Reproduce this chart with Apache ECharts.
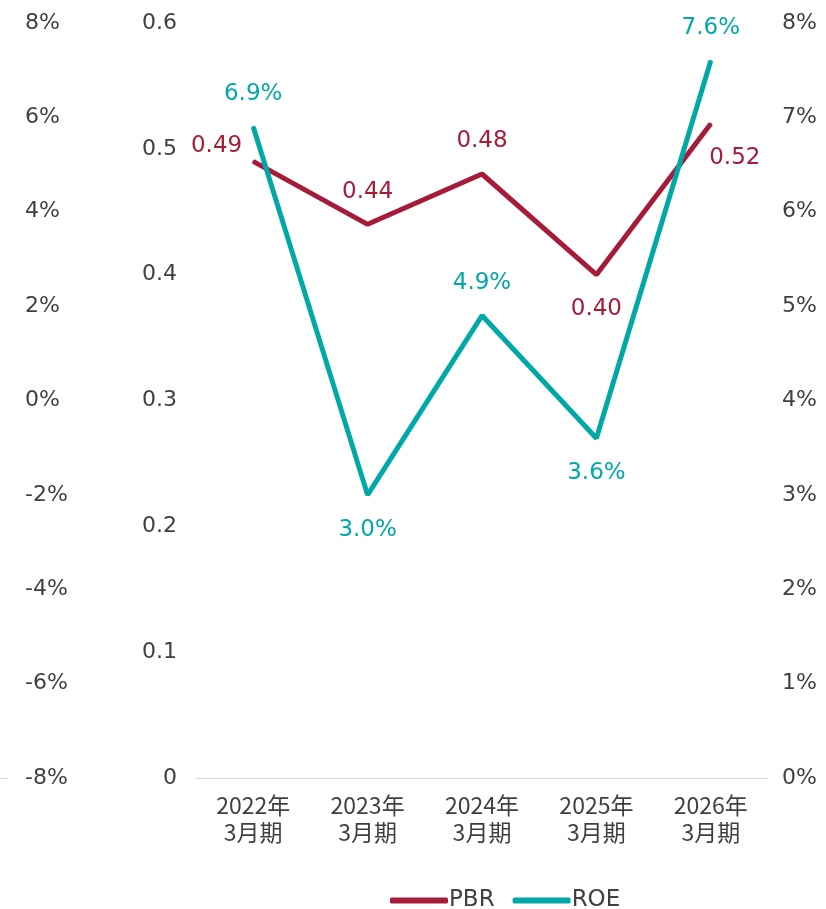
<!DOCTYPE html>
<html>
<head>
<meta charset="utf-8">
<style>
html,body{margin:0;padding:0;background:#fff;}
#chart{width:826px;height:909px;}
</style>
<script src="https://cdn.jsdelivr.net/npm/echarts@6/dist/echarts.min.js"></script>
</head>
<body>
<div id="chart"></div>
<script>
var categories = ['2022年\n3月期', '2023年\n3月期', '2024年\n3月期', '2025年\n3月期', '2026年\n3月期'];
var pbrValues = [0.49, 0.44, 0.48, 0.40, 0.52];
var roeValues = [6.9, 3.0, 4.9, 3.6, 7.6];
var pbrTicks = { min: 0, max: 0.6, interval: 0.1 };
var roeTicks = { min: 0, max: 8, interval: 1 };
var outerTicks = { min: -8, max: 8, interval: 2 };

var FONT = '"DejaVu Sans", "Noto Sans CJK JP", sans-serif';
var CJK_FONT = '"Noto Sans CJK JP", sans-serif';
var TEXT = '#404040';
var RED = '#A51C38';
var TEAL = '#00A9A8';
var FS = 22;
var FS_LABEL = 23;

// label placement styling (kept separate from values)
var pbrLabelCfg = [
  { position: 'left', distance: 10, offset: [0, -15] },
  { position: 'top', distance: 20 },
  { position: 'top', distance: 20 },
  { position: 'bottom', distance: 22 },
  { position: 'bottom', distance: 22, offset: [24, 0] }
];
var roeLabelCfg = [
  { position: 'top', distance: 20 },
  { position: 'bottom', distance: 23 },
  { position: 'top', distance: 20 },
  { position: 'bottom', distance: 22 },
  { position: 'top', distance: 20 }
];

var chart = echarts.init(document.getElementById('chart'), null, { renderer: 'canvas' });
chart.setOption({
  backgroundColor: '#fff',
  animation: false,
  textStyle: { fontFamily: FONT },
  legend: {
    left: 385, top: 884,
    itemWidth: 58, itemHeight: 6, itemGap: 18,
    icon: 'roundRect',
    textStyle: { fontFamily: FONT, fontSize: FS_LABEL, color: TEXT, padding: [2, 0, 0, -4] },
    data: [
      { name: 'PBR', itemStyle: { color: RED, opacity: 1 } },
      { name: 'ROE', itemStyle: { color: TEAL, opacity: 1 } }
    ]
  },
  grid: [
    { left: 196, right: 58, top: 23, bottom: 131 },
    { left: 0, width: 8, top: 23, bottom: 131 }
  ],
  xAxis: [
    {
      type: 'category', gridIndex: 0, data: categories, boundaryGap: true,
      axisLine: { lineStyle: { color: '#d9d9d9', width: 1 } },
      axisTick: { show: false },
      axisLabel: { color: TEXT, fontSize: 23, lineHeight: 27, margin: 14, fontFamily: CJK_FONT, interval: 0 }
    },
    {
      type: 'category', gridIndex: 1, data: [''],
      axisLine: { onZero: false, lineStyle: { color: '#d9d9d9', width: 1 } },
      axisTick: { show: false }, axisLabel: { show: false }
    }
  ],
  yAxis: [
    {
      type: 'value', gridIndex: 0, position: 'left',
      min: pbrTicks.min, max: pbrTicks.max, interval: pbrTicks.interval,
      axisLine: { show: false }, axisTick: { show: false }, splitLine: { show: false },
      axisLabel: { color: TEXT, fontSize: FS, margin: 19, fontFamily: FONT, padding: [4, 0, 0, 0],
        formatter: function (v) { return v === 0 ? '0' : v.toFixed(1); } }
    },
    {
      type: 'value', gridIndex: 0, position: 'right',
      min: roeTicks.min, max: roeTicks.max, interval: roeTicks.interval,
      axisLine: { show: false }, axisTick: { show: false }, splitLine: { show: false },
      axisLabel: { color: TEXT, fontSize: FS, margin: 14, align: 'left', fontFamily: FONT, padding: [4, 0, 0, 0],
        formatter: function (v) { return v + '%'; } }
    },
    {
      type: 'value', gridIndex: 1, position: 'right',
      min: outerTicks.min, max: outerTicks.max, interval: outerTicks.interval,
      axisLine: { show: false }, axisTick: { show: false }, splitLine: { show: false },
      axisLabel: { color: TEXT, fontSize: FS, margin: 17, align: 'left', fontFamily: FONT, padding: [4, 0, 0, 0],
        formatter: function (v) { return v + '%'; } }
    }
  ],
  series: [
    {
      name: 'PBR', type: 'line', xAxisIndex: 0, yAxisIndex: 0,
      data: pbrValues.map(function (v, i) { return { value: v, label: pbrLabelCfg[i] }; }),
      symbol: 'circle', symbolSize: 2, showSymbol: true,
      lineStyle: { color: RED, width: 5 }, itemStyle: { color: RED },
      label: { show: true, color: RED, fontSize: FS_LABEL, fontFamily: FONT,
        formatter: function (p) { return p.value.toFixed(2); } },
      z: 2
    },
    {
      name: 'ROE', type: 'line', xAxisIndex: 0, yAxisIndex: 1,
      data: roeValues.map(function (v, i) { return { value: v, label: roeLabelCfg[i] }; }),
      symbol: 'circle', symbolSize: 2, showSymbol: true,
      lineStyle: { color: TEAL, width: 5 }, itemStyle: { color: TEAL },
      label: { show: true, color: TEAL, fontSize: FS_LABEL, fontFamily: FONT,
        formatter: function (p) { return p.value.toFixed(1) + '%'; } },
      z: 3
    }
  ]
});
</script>
</body>
</html>
